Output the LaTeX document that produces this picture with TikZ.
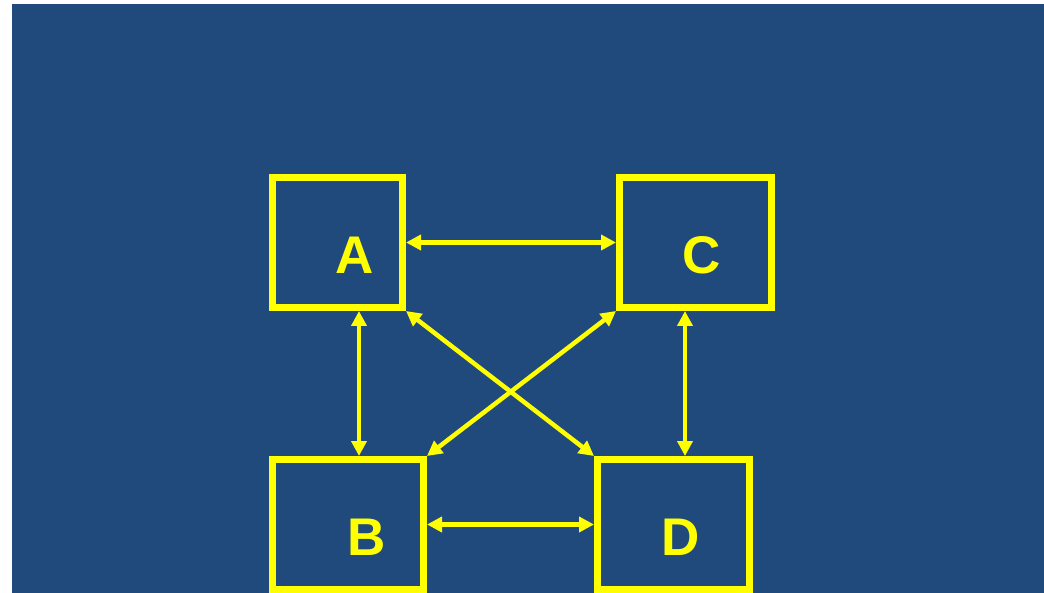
\documentclass[tikz,border=0pt]{standalone}
\usepackage{fontspec}
\setmainfont{Liberation Sans}
\usepackage{tikz}
\usetikzlibrary{arrows.meta}
\definecolor{slide}{RGB}{32,74,124}
\definecolor{ink}{RGB}{255,255,0}

\begin{document}
\begin{tikzpicture}[x=1pt,y=-1pt,
  box/.style={draw=ink,line width=7pt,minimum height=130pt,inner sep=0pt},
  letter/.style={text=ink,inner sep=0pt,font=\fontsize{53}{60}\selectfont\bfseries},
  link/.style={draw=ink,fill=ink,line width=4.5pt,{Triangle[length=15pt,width=15pt]}-{Triangle[length=15pt,width=15pt]}}]
\useasboundingbox (0,0) rectangle (1044,593);
\fill[slide] (12,4) rectangle (1044,593);
\node[box,minimum width=130pt] (A) at (337.5,242.5) {};
\node[box,minimum width=152pt] (C) at (695.5,242.5) {};
\node[box,minimum width=151pt] (B) at (348,524.5) {};
\node[box,minimum width=152pt] (D) at (673.5,524.5) {};
\node[letter] (la) at (355,255) {A};
\node[letter] (lc) at (702,255) {C};
\node[letter] (lb) at (366.5,537) {B};
\node[letter] (ld) at (681,537) {D};
\coordinate (ab) at (359,0);
\coordinate (cd) at (685,0);
\draw[link] (A.east) -- (C.west);
\draw[link] (B.east) -- (D.west);
\draw[link] (A.south -| ab) -- (B.north -| ab);
\draw[link] (C.south -| cd) -- (D.north -| cd);
\draw[link] (A.south east) -- (D.north west);
\draw[link] (C.south west) -- (B.north east);
\end{tikzpicture}
\end{document}
